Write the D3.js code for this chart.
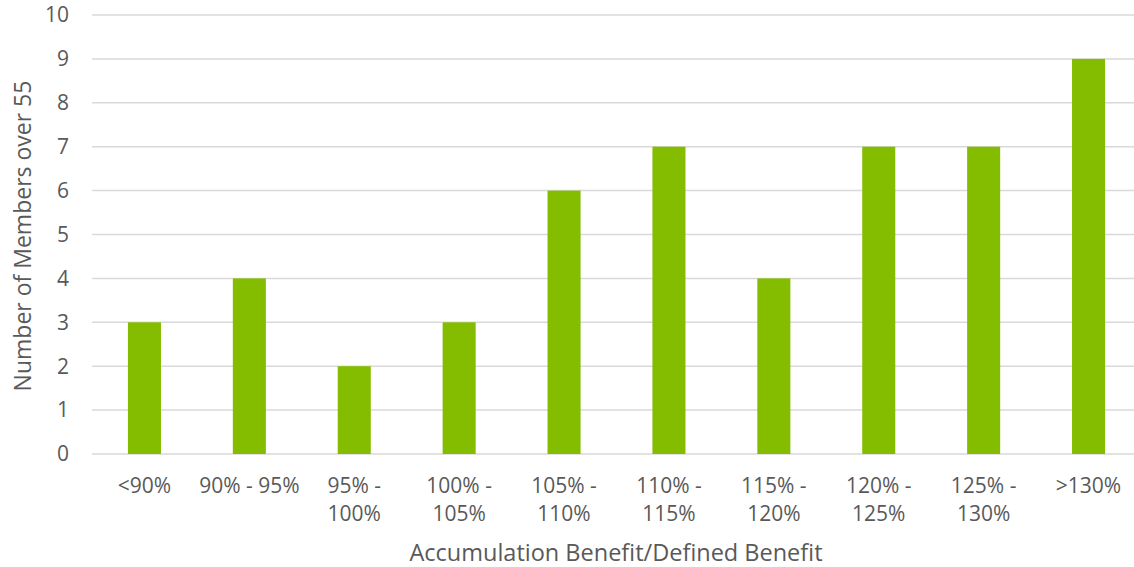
<!DOCTYPE html>
<html>
<head>
<meta charset="utf-8">
<script src="https://cdn.jsdelivr.net/npm/d3@7"></script>
<style>
  body { margin: 0; background: #fff; }
  text { font-family: "Open Sans", sans-serif; fill: #595959; }
</style>
</head>
<body>
<svg id="chart"></svg>
<script>
var width = 1134,
  height = 567;

var categories = ['<90%', '90% - 95%', '95% - 100%', '100% - 105%', '105% - 110%',
  '110% - 115%', '115% - 120%', '120% - 125%', '125% - 130%', '>130%'];
var members = [3, 4, 2, 3, 6, 7, 4, 7, 7, 9];
var yTicks = [0, 1, 2, 3, 4, 5, 6, 7, 8, 9, 10];

var svg = d3.select('#chart')
  .attr('width', width)
  .attr('height', height);

var x = d3.scaleBand()
  .domain(categories)
  .range([92, 1141])
  .paddingInner(0.685)
  .paddingOuter(0.3425);

var y = d3.scaleLinear()
  .domain([0, 10])
  .range([454, 15]);

// gridlines
svg.append('g')
  .selectAll('line')
  .data(yTicks)
  .enter().append('line')
  .attr('x1', 92)
  .attr('x2', width)
  .attr('y1', function(d) { return y(d); })
  .attr('y2', function(d) { return y(d); })
  .attr('stroke', '#d9d9d9')
  .attr('stroke-width', 1.5);

// y labels
svg.append('g')
  .selectAll('text')
  .data(yTicks)
  .enter().append('text')
  .attr('x', 69)
  .attr('y', function(d) { return y(d); })
  .attr('dy', '0.35em')
  .attr('text-anchor', 'end')
  .style('font-size', '21px')
  .text(function(d) { return d; });

svg.append('g')
  .selectAll('rect')
  .data(members)
  .enter().append('rect')
  .attr('x', function(d, i) { return x(categories[i]); })
  .attr('width', x.bandwidth())
  .attr('y', function(d) { return y(d); })
  .attr('height', function(d) { return y(0) - y(d); })
  .attr('fill', '#84bc00');

// x labels, wrapped to band step
var step = x.step();
var xl = svg.append('g');
categories.forEach(function(c) {
  var cx = x(c) + x.bandwidth() / 2;
  var t = xl.append('text')
    .attr('x', cx)
    .attr('y', 493)
    .attr('text-anchor', 'middle')
    .style('font-size', '21px')
    .text(c);
  if (t.node().getComputedTextLength() > step - 2 && c.indexOf(' - ') > 0) {
    var parts = c.split(' - ');
    t.text(parts[0] + ' -');
    xl.append('text')
      .attr('x', cx)
      .attr('y', 521)
      .attr('text-anchor', 'middle')
      .style('font-size', '21px')
      .text(parts[1]);
  }
});

svg.append('text')
  .attr('x', 616)
  .attr('y', 561)
  .attr('text-anchor', 'middle')
  .style('font-size', '23.5px')
  .text('Accumulation Benefit/Defined Benefit');

svg.append('text')
  .attr('transform', 'translate(31,' + 236 + ')rotate(-90)')
  .attr('text-anchor', 'middle')
  .style('font-size', '23px')
  .text('Number of Members over 55');
</script>
</body>
</html>
